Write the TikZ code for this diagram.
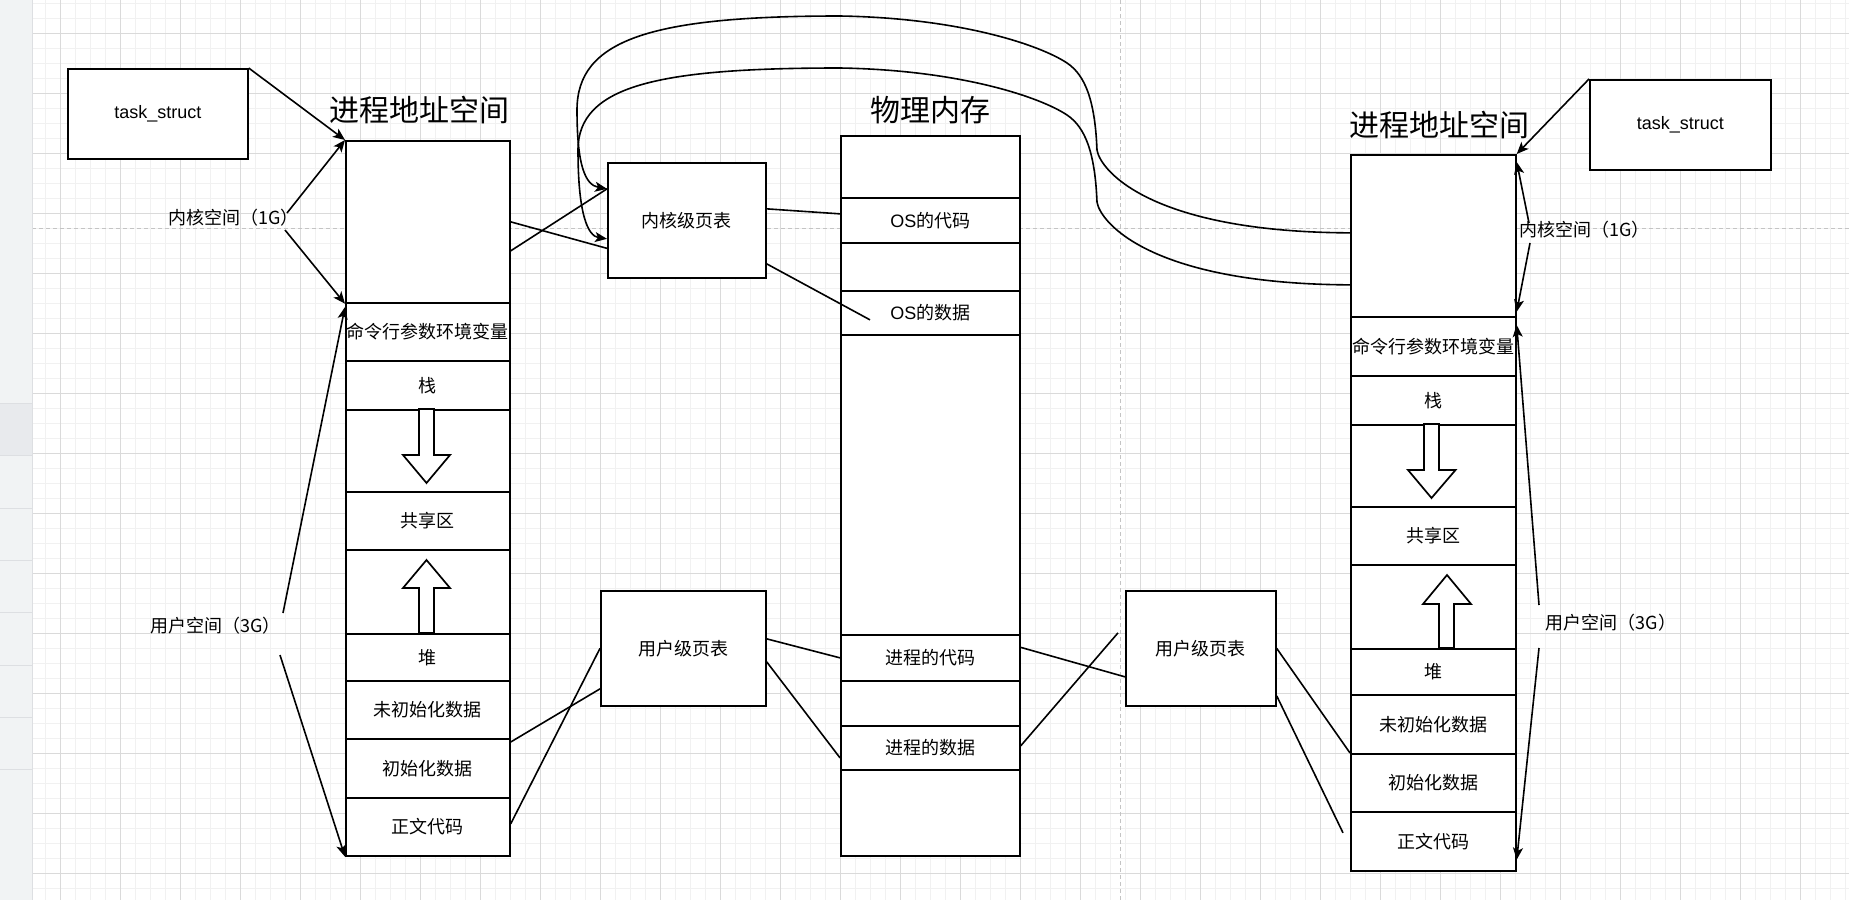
\documentclass[tikz,border=0pt]{standalone}
\usepackage{fontspec}
\setmainfont{Liberation Sans}
\newfontfamily\cjk{Noto Sans CJK SC}
\usetikzlibrary{arrows.meta}
\definecolor{gmajor}{HTML}{DADADA}
\definecolor{gminor}{HTML}{F1F1F1}
\definecolor{pagebreak}{HTML}{C4C4C4}
\definecolor{sidebar}{HTML}{F1F3F4}
\definecolor{sidebarsel}{HTML}{E8EAED}
\definecolor{sidebarline}{HTML}{DDDFE2}
\newcommand{\lblfont}{\fontsize{18pt}{21pt}\selectfont}
\newcommand{\ttlfont}{\fontsize{30pt}{34pt}\selectfont}
\tikzset{
  box/.style={draw=black, fill=white, line width=1.7pt, anchor=north west, inner sep=0pt, font=\lblfont, align=center},
  lbl/.style={font=\lblfont, inner sep=0pt},
  ttl/.style={font=\ttlfont, inner sep=0pt},
  conn/.style={line width=1.6pt},
  arr/.style={line width=1.6pt, -{Stealth[length=12pt,width=10pt,inset=3pt]}},
  blk/.style={draw=black, fill=white, line width=1.7pt},
  gridminor/.style={gminor, line width=1pt},
  gridmajor/.style={gmajor, line width=1pt},
  pbreak/.style={pagebreak, line width=1pt, dash pattern=on 4pt off 3pt}
}
\newcommand{\mycell}[6]{\node[box, minimum width=#4pt, minimum height=#5pt] (#1) at (#2,#3) {#6};}
\begin{document}
\begin{tikzpicture}[x=1pt,y=-1pt]
\useasboundingbox (0,0) rectangle (1849,900);
\fill[white] (0,0) rectangle (1849,900);
% grid
\foreach \x in {45,60,...,1845} \draw[gridminor] (\x,0) -- (\x,900);
\foreach \y in {3.5,18.5,...,888.5} \draw[gridminor] (32,\y) -- (1849,\y);
\foreach \x in {60,120,...,1800} \draw[gridmajor] (\x,0) -- (\x,900);
\foreach \y in {33.5,93.5,...,873.5} \draw[gridmajor] (32,\y) -- (1849,\y);
\draw[pbreak] (32,228) -- (1849,228);
\draw[pbreak] (1120,0) -- (1120,900);
% sidebar
\fill[sidebar] (0,0) rectangle (32,900);
\fill[sidebarsel] (0,403) rectangle (32,455);
\foreach \y in {403,455,508,560,612,665,717,769} \draw[sidebarline, line width=1pt] (0,\y) -- (32,\y);
\draw[sidebarline, line width=1pt] (32,0) -- (32,900);

% titles
\node[ttl] (TTL) at (419,110) {\cjk 进程地址空间};
\node[ttl] (TTP) at (930,110) {\cjk 物理内存};
\node[ttl] (TTR) at (1439.5,125) {\cjk 进程地址空间};

% left process address space
\mycell{L0}{345}{140}{164}{162}{}
\mycell{L1}{345}{302}{164}{58}{\cjk 命令行参数环境变量}
\mycell{L2}{345}{360}{164}{49}{\cjk 栈}
\mycell{L3}{345}{409}{164}{82}{}
\mycell{L4}{345}{491}{164}{58}{\cjk 共享区}
\mycell{L5}{345}{549}{164}{84}{}
\mycell{L6}{345}{633}{164}{47}{\cjk 堆}
\mycell{L7}{345}{680}{164}{58}{\cjk 未初始化数据}
\mycell{L8}{345}{738}{164}{59}{\cjk 初始化数据}
\mycell{L9}{345}{797}{164}{58}{\cjk 正文代码}
\draw[blk] (419,409) -- (434,409) -- (434,455) -- (450,455) -- (426.5,483) -- (403,455) -- (419,455) -- cycle;
\draw[blk] (426.5,560) -- (450,588) -- (434,588) -- (434,633) -- (419,633) -- (419,588) -- (403,588) -- cycle;

% right process address space
\mycell{R0}{1350}{154}{165}{162}{}
\mycell{R1}{1350}{316}{165}{59}{\cjk 命令行参数环境变量}
\mycell{R2}{1350}{375}{165}{49}{\cjk 栈}
\mycell{R3}{1350}{424}{165}{82}{}
\mycell{R4}{1350}{506}{165}{58}{\cjk 共享区}
\mycell{R5}{1350}{564}{165}{84}{}
\mycell{R6}{1350}{648}{165}{46}{\cjk 堆}
\mycell{R7}{1350}{694}{165}{59}{\cjk 未初始化数据}
\mycell{R8}{1350}{753}{165}{58}{\cjk 初始化数据}
\mycell{R9}{1350}{811}{165}{59}{\cjk 正文代码}
\draw[blk] (1424,424) -- (1439,424) -- (1439,470) -- (1455.5,470) -- (1431.5,498) -- (1408,470) -- (1424,470) -- cycle;
\draw[blk] (1447,575) -- (1471,604) -- (1454,604) -- (1454,648) -- (1439,648) -- (1439,604) -- (1423,604) -- cycle;

% physical memory
\mycell{P0}{840}{135}{179}{62}{}
\mycell{P1}{840}{197}{179}{45}{OS{\cjk 的代码}}
\mycell{P2}{840}{242}{179}{48}{}
\mycell{P3}{840}{290}{179}{44}{OS{\cjk 的数据}}
\mycell{P4}{840}{334}{179}{300}{}
\mycell{P5}{840}{634}{179}{46}{\cjk 进程的代码}
\mycell{P6}{840}{680}{179}{45}{}
\mycell{P7}{840}{725}{179}{44}{\cjk 进程的数据}
\mycell{P8}{840}{769}{179}{86}{}

% other boxes
\mycell{TL}{67}{68}{180}{90}{task\_struct}
\mycell{TR}{1589}{79}{181}{90}{task\_struct}
\mycell{KPT}{607}{162}{158}{115}{\cjk 内核级页表}
\mycell{U1}{600}{590}{165}{115}{\cjk 用户级页表}
\mycell{U2}{1125}{590}{150}{115}{\cjk 用户级页表}

% labels
\node[lbl, anchor=west] (K1) at (168,218) {\cjk 内核空间（1G）};
\node[lbl, anchor=west] (UL) at (150,626) {\cjk 用户空间（3G）};
\node[lbl, anchor=west] (K2) at (1519,230) {\cjk 内核空间（1G）};
\node[lbl, anchor=west] (UR) at (1545.6,623) {\cjk 用户空间（3G）};

% free ends
\coordinate (osd) at ([xshift=30pt,yshift=-7pt]P3.west);
\coordinate (u2in) at ([xshift=-7pt,yshift=15.5pt]U2.west);
\coordinate (r9in) at ([xshift=-7pt,yshift=8.5pt]R9.west);

% arrows to left address space
\draw[arr] (TL.north east) -- (L0.north west);
\draw[arr] ([xshift=119pt,yshift=5pt]K1.west) -- (L0.north west);
\draw[arr] ([xshift=117pt,yshift=-12pt]K1.west) -- (L0.south west);
\draw[arr] ([xshift=133pt,yshift=13pt]UL.west) -- ([yshift=-5pt]L1.north west);
\draw[arr] ([xshift=130pt,yshift=-29pt]UL.west) -- (L9.south west);

% arrows to right address space
\draw[arr] (TR.north west) -- (R0.north east);
\draw[arr] ([xshift=10pt,yshift=7pt]K2.west) -- ([yshift=-8pt]R0.north east);
\draw[arr] ([xshift=11pt,yshift=-13pt]K2.west) -- ([yshift=6pt]R0.south east);
\draw[arr] ([xshift=-6.6pt,yshift=18pt]UR.west) -- ([yshift=-9pt]R1.north east);
\draw[arr] ([xshift=-6.6pt,yshift=-25pt]UR.west) -- ([yshift=12pt]R9.south east);

% page table links
\draw[conn] (L0.east) -- ([yshift=-28pt]KPT.west);
\draw[conn] ([yshift=-29pt]L0.east) -- ([yshift=31.5pt]KPT.west);
\draw[conn] ([yshift=11.5pt]KPT.east) -- ([yshift=6.5pt]P1.west);
\draw[conn] ([yshift=-43.5pt]KPT.east) -- (osd);
\draw[conn] ([yshift=-4pt]L8.north east) -- ([yshift=-40.5pt]U1.west);
\draw[conn] ([yshift=3pt]L9.east) -- (U1.west);
\draw[conn] ([yshift=9.5pt]U1.east) -- (P5.west);
\draw[conn] ([yshift=-13.5pt]U1.east) -- ([yshift=-10pt]P7.west);
\draw[conn] ([yshift=10.5pt]P5.east) -- ([yshift=-28.5pt]U2.west);
\draw[conn] ([yshift=2pt]P7.east) -- (u2in);
\draw[conn] (U2.east) -- (R8.north west);
\draw[conn] ([yshift=-47.5pt]U2.east) -- (r9in);

% curved links from right kernel space to kernel page table
\draw[arr] ([yshift=3pt]R0.west) .. controls (1150,232) and (1100,170) .. (1097,150)
  .. controls (1095,100) and (1085,75) .. (1067,63)
  .. controls (1040,45) and (960,18) .. (840,16)
  .. controls (650,16) and (577,40) .. (577,110)
  .. controls (577,165) and (585,185) .. ([yshift=31.5pt]KPT.west);
\draw[arr] ([yshift=-49pt]R0.west) .. controls (1150,284) and (1100,222) .. (1097,202)
  .. controls (1095,152) and (1085,127) .. (1067,115)
  .. controls (1040,97) and (960,70) .. (840,68)
  .. controls (660,68) and (578,85) .. (578,150)
  .. controls (578,215) and (588,236) .. ([yshift=-18.5pt]KPT.west);
\end{tikzpicture}
\end{document}
